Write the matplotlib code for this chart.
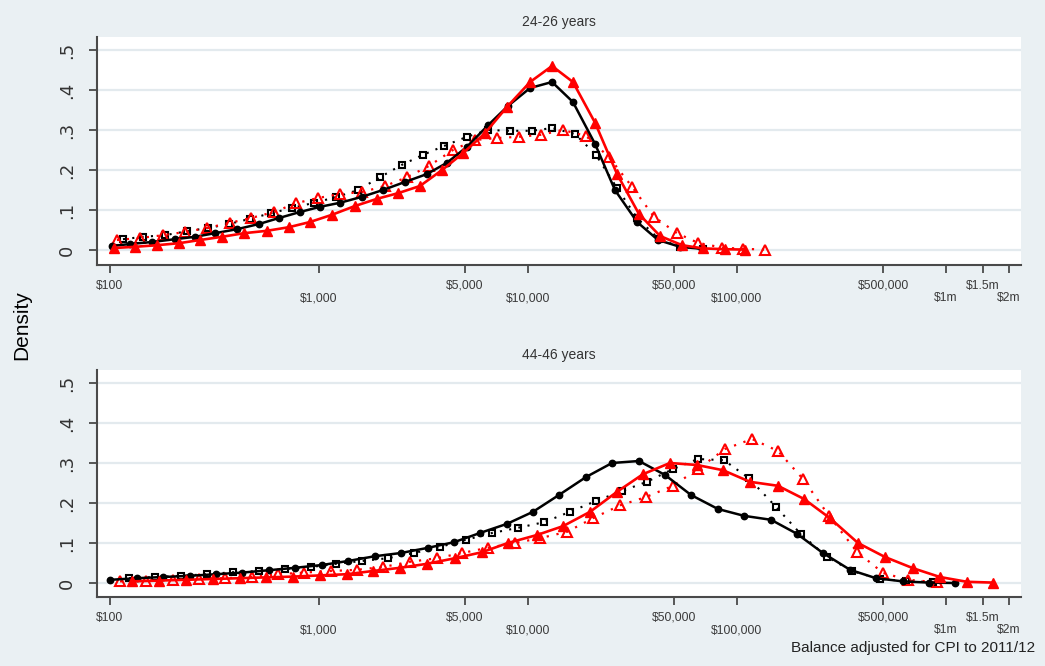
import matplotlib
matplotlib.use("Agg")
import matplotlib.pyplot as plt
import numpy as np

# ---------------- data (x = log10 of balance in $, y = density) ----------------
tick_values = [100, 1000, 5000, 10000, 50000, 100000, 500000, 1000000, 1500000, 2000000]
tick_labels = ["$100", "$1,000", "$5,000", "$10,000", "$50,000", "$100,000",
               "$500,000", "$1m", "$1.5m", "$2m"]
y_ticks = [0, 0.1, 0.2, 0.3, 0.4, 0.5]
y_tick_labels = ["0", ".1", ".2", ".3", ".4", ".5"]

# Panel 1: 24-26 years
p1_black_solid_x = [2.010, 2.096, 2.201, 2.311, 2.407, 2.502, 2.608, 2.713, 2.809, 2.909,
                    3.005, 3.100, 3.206, 3.306, 3.411, 3.517, 3.612, 3.708, 3.809, 3.904,
                    4.010, 4.115, 4.215, 4.321, 4.416, 4.522, 4.622, 4.727, 4.833]
p1_black_solid_y = [0.010, 0.015, 0.020, 0.027, 0.033, 0.042, 0.052, 0.065, 0.080, 0.095,
                    0.108, 0.118, 0.133, 0.150, 0.170, 0.190, 0.218, 0.258, 0.312, 0.360,
                    0.405, 0.420, 0.370, 0.265, 0.150, 0.070, 0.025, 0.008, 0.003]

p1_black_dot_x = [2.062, 2.158, 2.263, 2.368, 2.469, 2.569, 2.670, 2.770, 2.871, 2.976,
                  3.081, 3.187, 3.292, 3.397, 3.498, 3.598, 3.708, 3.809, 3.914, 4.019,
                  4.115, 4.225, 4.325, 4.426, 4.522, 4.627, 4.727, 4.837]
p1_black_dot_y = [0.027, 0.033, 0.037, 0.047, 0.055, 0.065, 0.078, 0.092, 0.105, 0.118,
                  0.132, 0.150, 0.182, 0.213, 0.238, 0.260, 0.283, 0.300, 0.298, 0.298,
                  0.305, 0.290, 0.238, 0.155, 0.080, 0.027, 0.008, 0.003]

p1_red_solid_x = [2.019, 2.120, 2.225, 2.330, 2.431, 2.536, 2.641, 2.751, 2.856, 2.957,
                  3.062, 3.172, 3.278, 3.378, 3.483, 3.589, 3.689, 3.794, 3.900, 4.010,
                  4.115, 4.215, 4.321, 4.426, 4.531, 4.632, 4.737, 4.837, 4.943, 5.038]
p1_red_solid_y = [0.005, 0.008, 0.012, 0.017, 0.025, 0.033, 0.042, 0.048, 0.057, 0.070,
                  0.088, 0.110, 0.128, 0.142, 0.160, 0.200, 0.242, 0.292, 0.358, 0.420,
                  0.460, 0.420, 0.318, 0.190, 0.090, 0.035, 0.012, 0.004, 0.002, 0.001]

p1_red_dot_x = [2.033, 2.144, 2.254, 2.359, 2.464, 2.574, 2.675, 2.785, 2.890, 2.995,
                3.100, 3.206, 3.316, 3.421, 3.526, 3.641, 3.746, 3.852, 3.957, 4.062,
                4.167, 4.278, 4.388, 4.498, 4.603, 4.713, 4.813, 4.928, 5.029, 5.134]
p1_red_dot_y = [0.025, 0.030, 0.037, 0.045, 0.055, 0.068, 0.080, 0.095, 0.117, 0.130,
                0.140, 0.145, 0.160, 0.182, 0.210, 0.250, 0.275, 0.280, 0.283, 0.288,
                0.300, 0.285, 0.232, 0.158, 0.083, 0.042, 0.018, 0.006, 0.003, 0.001]

# Panel 2: 44-46 years
p2_black_solid_x = [2.002, 2.129, 2.254, 2.383, 2.507, 2.632, 2.761, 2.885, 3.014, 3.139,
                    3.268, 3.392, 3.522, 3.646, 3.770, 3.900, 4.024, 4.148, 4.278, 4.402,
                    4.531, 4.656, 4.780, 4.909, 5.033, 5.163, 5.287, 5.411, 5.541, 5.665,
                    5.794, 5.919, 6.043]
p2_black_solid_y = [0.008, 0.012, 0.015, 0.018, 0.022, 0.026, 0.032, 0.038, 0.045, 0.055,
                    0.067, 0.075, 0.088, 0.102, 0.125, 0.148, 0.178, 0.220, 0.265, 0.300,
                    0.305, 0.270, 0.220, 0.185, 0.168, 0.158, 0.123, 0.075, 0.033, 0.012,
                    0.004, 0.001, 0.000]

p2_black_dot_x = [2.091, 2.215, 2.340, 2.464, 2.589, 2.713, 2.837, 2.962, 3.081, 3.206,
                  3.330, 3.455, 3.579, 3.703, 3.828, 3.952, 4.077, 4.201, 4.325, 4.450,
                  4.569, 4.694, 4.813, 4.938, 5.057, 5.187, 5.306, 5.431, 5.550, 5.684,
                  5.809, 5.938]
p2_black_dot_y = [0.012, 0.015, 0.018, 0.022, 0.027, 0.030, 0.035, 0.040, 0.048, 0.055,
                  0.062, 0.075, 0.090, 0.108, 0.125, 0.138, 0.152, 0.178, 0.205, 0.230,
                  0.253, 0.285, 0.310, 0.307, 0.262, 0.190, 0.122, 0.065, 0.030, 0.010,
                  0.005, 0.002]

p2_red_solid_x = [2.105, 2.234, 2.364, 2.493, 2.622, 2.746, 2.876, 3.005, 3.134, 3.258,
                  3.388, 3.517, 3.651, 3.780, 3.904, 4.043, 4.167, 4.297, 4.426, 4.550,
                  4.679, 4.809, 4.933, 5.062, 5.196, 5.321, 5.445, 5.579, 5.708, 5.842,
                  5.971, 6.100, 6.225]
p2_red_solid_y = [0.004, 0.006, 0.008, 0.010, 0.012, 0.014, 0.016, 0.019, 0.022, 0.030,
                  0.038, 0.048, 0.062, 0.077, 0.100, 0.120, 0.142, 0.178, 0.228, 0.272,
                  0.300, 0.295, 0.282, 0.253, 0.243, 0.210, 0.162, 0.100, 0.065, 0.037,
                  0.015, 0.003, 0.001]

p2_red_dot_x = [2.048, 2.172, 2.301, 2.426, 2.550, 2.679, 2.804, 2.928, 3.057, 3.182,
                3.306, 3.435, 3.565, 3.684, 3.809, 3.938, 4.057, 4.187, 4.311, 4.440,
                4.565, 4.694, 4.813, 4.943, 5.072, 5.196, 5.316, 5.440, 5.574, 5.699,
                5.818, 5.957]
p2_red_dot_y = [0.004, 0.006, 0.008, 0.010, 0.012, 0.015, 0.022, 0.026, 0.030, 0.033,
                0.040, 0.053, 0.062, 0.075, 0.088, 0.100, 0.112, 0.128, 0.162, 0.194,
                0.215, 0.243, 0.285, 0.335, 0.360, 0.330, 0.260, 0.168, 0.078, 0.025,
                0.008, 0.002]

panel_titles = ["24-26 years", "44-46 years"]

# ---------------- styling ----------------
BG = "#EAF0F3"
GRID = "#E3EAEE"
SPINE = "#4a4a4a"
TXT = "#333333"
RED = "#FF0000"
plt.rcParams["font.family"] = ["Liberation Sans", "DejaVu Sans"]

fig = plt.figure(figsize=(10.45, 6.66), dpi=100, facecolor=BG)
W, H = 1045.0, 666.0
ax1 = fig.add_axes([97 / W, 1 - 265 / H, 924 / W, 228 / H])
ax2 = fig.add_axes([97 / W, 1 - 597 / H, 924 / W, 227 / H])

panels = [
    (ax1, p1_black_solid_x, p1_black_solid_y, p1_black_dot_x, p1_black_dot_y,
     p1_red_solid_x, p1_red_solid_y, p1_red_dot_x, p1_red_dot_y, (-0.0375, 0.5325)),
    (ax2, p2_black_solid_x, p2_black_solid_y, p2_black_dot_x, p2_black_dot_y,
     p2_red_solid_x, p2_red_solid_y, p2_red_dot_x, p2_red_dot_y, (-0.035, 0.5325)),
]

for i, (ax, bsx, bsy, bdx, bdy, rsx, rsy, rdx, rdy, ylim) in enumerate(panels):
    ax.set_facecolor("white")
    for y in y_ticks:
        ax.axhline(y, color=GRID, lw=1.6, zorder=0)
    ax.plot(bdx, bdy, color="black", ls=(0, (1, 3.5)), lw=1.5, marker="s",
            ms=4.8, mfc="none", mec="black", mew=1.5, zorder=3)
    ax.plot(rdx, rdy, color=RED, ls=(0, (1, 3.5)), lw=1.6, marker="^",
            ms=7, mfc="none", mec=RED, mew=1.5, zorder=4)
    ax.plot(bsx, bsy, color="black", ls="-", lw=1.8, marker="o",
            ms=4.6, mfc="black", mec="black", zorder=5)
    ax.plot(rsx, rsy, color=RED, ls="-", lw=1.9, marker="^",
            ms=7, mfc=RED, mec=RED, zorder=6)

    ax.set_xlim(1.9378, 6.3589)
    ax.set_ylim(*ylim)
    ax.set_yticks(y_ticks)
    ax.set_yticklabels(y_tick_labels, rotation=90, va="center", fontsize=13,
                       color=TXT, family=["DejaVu Sans"])
    ax.set_xticks(np.log10(tick_values))
    ax.set_xticklabels(tick_labels, fontsize=8.7, color="#3a3a3a")
    ax.tick_params(axis="y", length=6, width=1.3, color=SPINE, pad=9)
    ax.tick_params(axis="x", length=6, width=1.3, color=SPINE, pad=5)
    for j, t in enumerate(ax.xaxis.get_major_ticks()):
        t.set_pad(4.5 if j % 2 == 0 else 13.5)
    for s in ["top", "right"]:
        ax.spines[s].set_visible(False)
    for s in ["left", "bottom"]:
        ax.spines[s].set_color(SPINE)
        ax.spines[s].set_linewidth(1.5)
    ax.set_title(panel_titles[i], fontsize=10, color=TXT, pad=8)

fig.text(22 / W, 1 - 325 / H, "Density", rotation=90, ha="center", va="center",
         fontsize=15, color="black")
fig.text(1035 / W, 1 - 648 / H, "Balance adjusted for CPI to 2011/12",
         ha="right", va="center", fontsize=11, color="#222222")

fig.savefig("out.png", dpi=100, facecolor=BG)
